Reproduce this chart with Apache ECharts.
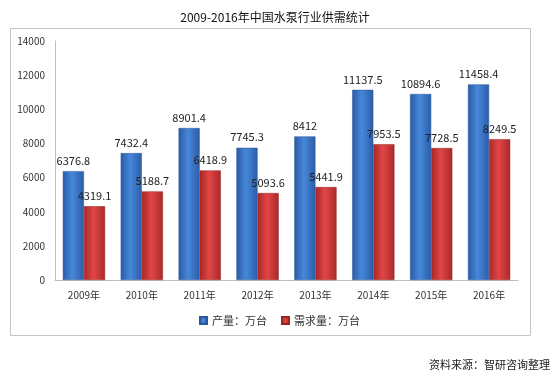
<!DOCTYPE html>
<html><head><meta charset="utf-8">
<script src="https://cdn.jsdelivr.net/npm/echarts@6/dist/echarts.min.js"></script>
<style>html,body{margin:0;padding:0;background:#fff}#c{width:558px;height:379px}</style>
</head><body><div id="c"></div>
<script>
const categories = ['2009年','2010年','2011年','2012年','2013年','2014年','2015年','2016年'];
const production = [6376.8, 7432.4, 8901.4, 7745.3, 8412, 11137.5, 10894.6, 11458.4];
const demand = [4319.1, 5188.7, 6418.9, 5093.6, 5441.9, 7953.5, 7728.5, 8249.5];
const seriesNames = ['产量：万台', '需求量：万台'];
const titleText = '2009-2016年中国水泵行业供需统计';
const sourceText = '资料来源：智研咨询整理';

const font = '"Noto Sans CJK SC", "Liberation Sans", sans-serif';
function grad(a, b, c) {
  return new echarts.graphic.LinearGradient(0, 0, 1, 0, [
    {offset: 0, color: a}, {offset: 0.45, color: b}, {offset: 1, color: c}
  ]);
}
const chart = echarts.init(document.getElementById('c'));
chart.setOption({
  backgroundColor: '#fff',
  animation: false,
  title: {
    text: titleText, left: 270, textAlign: 'center', top: 6,
    textStyle: {fontSize: 12, fontWeight: 'normal', color: '#111', fontFamily: font}
  },
  graphic: [
    {type: 'rect', shape: {x: 10.5, y: 28.5, width: 520, height: 307},
     style: {fill: 'none', stroke: '#c4c4c4', lineWidth: 1}, z: -1},
    {type: 'text', right: 8, top: 359,
     style: {text: sourceText, fontSize: 11, fill: '#222', fontFamily: font}}
  ],
  legend: {
    data: seriesNames, left: 194, top: 310, orient: 'horizontal',
    itemWidth: 7, itemHeight: 7, itemGap: 14, icon: 'rect',
    textStyle: {fontSize: 11, color: '#333', fontFamily: font}
  },
  grid: {left: 55, right: 40, top: 41, bottom: 99},
  xAxis: {
    type: 'category', data: categories,
    axisLine: {lineStyle: {color: '#bfbfbf'}},
    axisTick: {show: false},
    axisLabel: {fontSize: 10, color: '#333', margin: 10, fontFamily: font}
  },
  yAxis: {
    type: 'value', min: 0, max: 14000, interval: 2000,
    axisLine: {show: true, lineStyle: {color: '#bfbfbf'}},
    axisTick: {show: false},
    splitLine: {show: false},
    axisLabel: {fontSize: 10, color: '#333', margin: 10, fontFamily: font, formatter: v => String(v)}
  },
  series: [
    {name: seriesNames[0], type: 'bar', data: production, barGap: '0%', barCategoryGap: '27%',
     itemStyle: {color: grad('#2a5aa6', '#4688da', '#2c5ca8'), borderColor: '#2a569a', borderWidth: 0.5},
     label: {show: true, position: 'top', distance: 5, fontSize: 11, color: '#222', fontFamily: font}},
    {name: seriesNames[1], type: 'bar', data: demand,
     itemStyle: {color: grad('#a82626', '#e24646', '#aa2828'), borderColor: '#9a2222', borderWidth: 0.5},
     label: {show: true, position: 'top', distance: 5, fontSize: 11, color: '#222', fontFamily: font}}
  ]
});
</script></body></html>
